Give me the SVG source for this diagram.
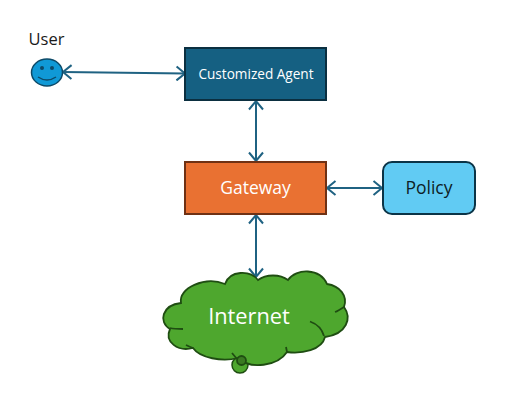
<svg xmlns="http://www.w3.org/2000/svg" width="507" height="408" viewBox="0 0 507 408">
  <style>
    text { font-family: "Open Sans", "Liberation Sans", sans-serif; text-anchor: middle; }
    .conn { fill: none; stroke: #1f6282; stroke-width: 2; marker-start: url(#ah); marker-end: url(#ah); }
    .box { stroke-width: 2; }
  </style>
  <defs>
    <marker id="ah" markerUnits="userSpaceOnUse" markerWidth="14" markerHeight="16" refX="11" refY="8" orient="auto-start-reverse">
      <path d="M2.500 1 L11 8 L2.500 15" fill="none" stroke="#1f6282" stroke-width="2"/>
    </marker>
  </defs>
  <rect width="507" height="408" fill="#ffffff"/>
  <g id="connectors">
    <path class="conn" d="M63 72 L185 73.500"/>
    <path class="conn" d="M256 101 L256 161"/>
    <path class="conn" d="M327 188 L382 188"/>
    <path class="conn" d="M256 215 L256 277"/>
  </g>
  <g id="user">
    <text x="46.500" y="44.500" font-size="16.500" fill="#1a1a1a">User</text>
    <ellipse cx="47" cy="72.500" rx="15.500" ry="13.500" fill="#1099d6" stroke="#0d4a68" stroke-width="1.500"/>
    <ellipse cx="42" cy="68" rx="2" ry="2" fill="#0d4a68"/>
    <ellipse cx="52" cy="68" rx="2" ry="2" fill="#0d4a68"/>
    <path d="M38 77 Q47 83 56 77" fill="none" stroke="#0d4a68" stroke-width="1.500"/>
  </g>
  <g id="agent">
    <rect class="box" x="185" y="48" width="141" height="52" fill="#156082" stroke="#0b2f40"/>
    <text x="256" y="79" font-size="13.600" fill="#ffffff">Customized Agent</text>
  </g>
  <g id="gateway">
    <rect class="box" x="185" y="162" width="141" height="52" fill="#e97132" stroke="#6f3114"/>
    <text x="255.500" y="194" font-size="17.500" fill="#ffffff">Gateway</text>
  </g>
  <g id="policy">
    <rect class="box" x="383" y="162" width="92" height="52" rx="9" ry="9" fill="#61cbf3" stroke="#0b3447"/>
    <text x="429" y="194" font-size="17.500" fill="#0e1d26">Policy</text>
  </g>
  <g id="internet">
    <circle cx="240" cy="365" r="8" fill="#4ea72e" stroke="#1f4d12" stroke-width="1.500"/>
    <path d="M181 303 C178 288 205 276 225 284 C230 270 250 270 258 280 C266 274 280 274 288 280 C296 268 320 268 327 284 C340 286 348 296 344 307 C352 318 347 334 325 337 C322 350 302 354 287 352 C278 366 250 370 238 358 C222 362 200 358 193 348 C178 352 164 342 170 329 C158 322 162 305 181 303 Z" fill="#4ea72e" stroke="#1f4d12" stroke-width="1.800"/>
    <path d="M310 321.500 C317 324 322 329 324 336 M170 328 C174 329 178 329 183 329 M335 312 C338 311 341 309 344 307 M193 348 C190 347 188 346 186 345 M232 353 L237 359 M287 352 L286 347" fill="none" stroke="#1f4d12" stroke-width="1.800"/>
    <circle cx="241.500" cy="360.500" r="4.500" fill="#3a7a22" stroke="#1f4d12" stroke-width="1.800"/>
    <text x="249" y="324" font-size="21.800" fill="#ffffff">Internet</text>
  </g>
</svg>
